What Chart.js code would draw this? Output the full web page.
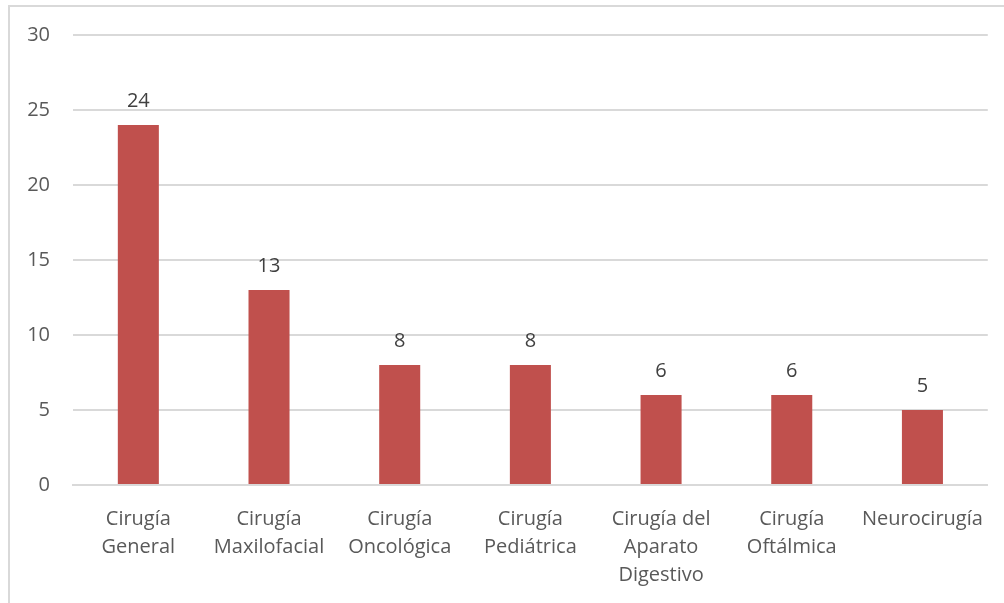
<!DOCTYPE html>
<html>
<head>
<meta charset="utf-8">
<script src="https://cdn.jsdelivr.net/npm/chart.js@4"></script>
<style>
  html, body { margin: 0; padding: 0; background: #fff; }
  #wrap { position: relative; width: 1004px; height: 603px; }
</style>
</head>
<body>
<div id="wrap"><canvas id="c" width="1004" height="603"></canvas></div>
<script>
const categories = [
  ["Cirugía", "General"],
  ["Cirugía", "Maxilofacial"],
  ["Cirugía", "Oncológica"],
  ["Cirugía", "Pediátrica"],
  ["Cirugía del", "Aparato", "Digestivo"],
  ["Cirugía", "Oftálmica"],
  ["Neurocirugía"]
];
const values = [24, 13, 8, 8, 6, 6, 5];
const yTicks = [0, 5, 10, 15, 20, 25, 30];

const FONT = "'Open Sans', sans-serif";

const frame = {
  id: 'frame',
  beforeDraw(chart) {
    const ctx = chart.ctx;
    ctx.save();
    ctx.fillStyle = '#ffffff';
    ctx.fillRect(0, 0, chart.width, chart.height);
    ctx.fillStyle = '#d9d9d9';
    ctx.fillRect(8, 5, 2, chart.height - 5);
    ctx.fillRect(8, 5, chart.width - 8, 2);
    ctx.restore();
  }
};

const barLabels = {
  id: 'barLabels',
  afterDatasetsDraw(chart) {
    const ctx = chart.ctx;
    const meta = chart.getDatasetMeta(0);
    ctx.save();
    ctx.font = '20px ' + FONT;
    ctx.fillStyle = '#404040';
    ctx.textAlign = 'center';
    ctx.textBaseline = 'alphabetic';
    meta.data.forEach((bar, i) => {
      ctx.fillText(String(values[i]), bar.x, bar.y - 18);
    });
    ctx.restore();
  }
};

new Chart(document.getElementById('c'), {
  type: 'bar',
  data: {
    labels: categories,
    datasets: [{
      data: values,
      backgroundColor: '#C0504D',
      borderWidth: 0,
      categoryPercentage: 1,
      barPercentage: 0.314
    }]
  },
  options: {
    responsive: false,
    animation: false,
    devicePixelRatio: 1,
    layout: { padding: { left: 8, top: 34, right: 16, bottom: 0 } },
    plugins: { legend: { display: false }, tooltip: { enabled: false } },
    scales: {
      x: {
        grid: { display: false, drawTicks: false },
        border: { display: true, color: '#d9d9d9', width: 2 },
        ticks: {
          color: '#595959',
          font: { family: FONT, size: 20, lineHeight: 1.4 },
          maxRotation: 0, minRotation: 0, autoSkip: false,
          padding: 20
        },
        afterFit(s) { s.height = 118; }
      },
      y: {
        min: 0, max: 30,
        afterBuildTicks(s) { s.ticks = yTicks.map(v => ({ value: v })); },
        grid: { color: '#d9d9d9', lineWidth: 2, drawTicks: false },
        border: { display: false },
        ticks: {
          color: '#595959',
          font: { family: FONT, size: 20 },
          padding: 23
        },
        afterFit(s) { s.width = 65; }
      }
    }
  },
  plugins: [frame, barLabels]
});
</script>
</body>
</html>
